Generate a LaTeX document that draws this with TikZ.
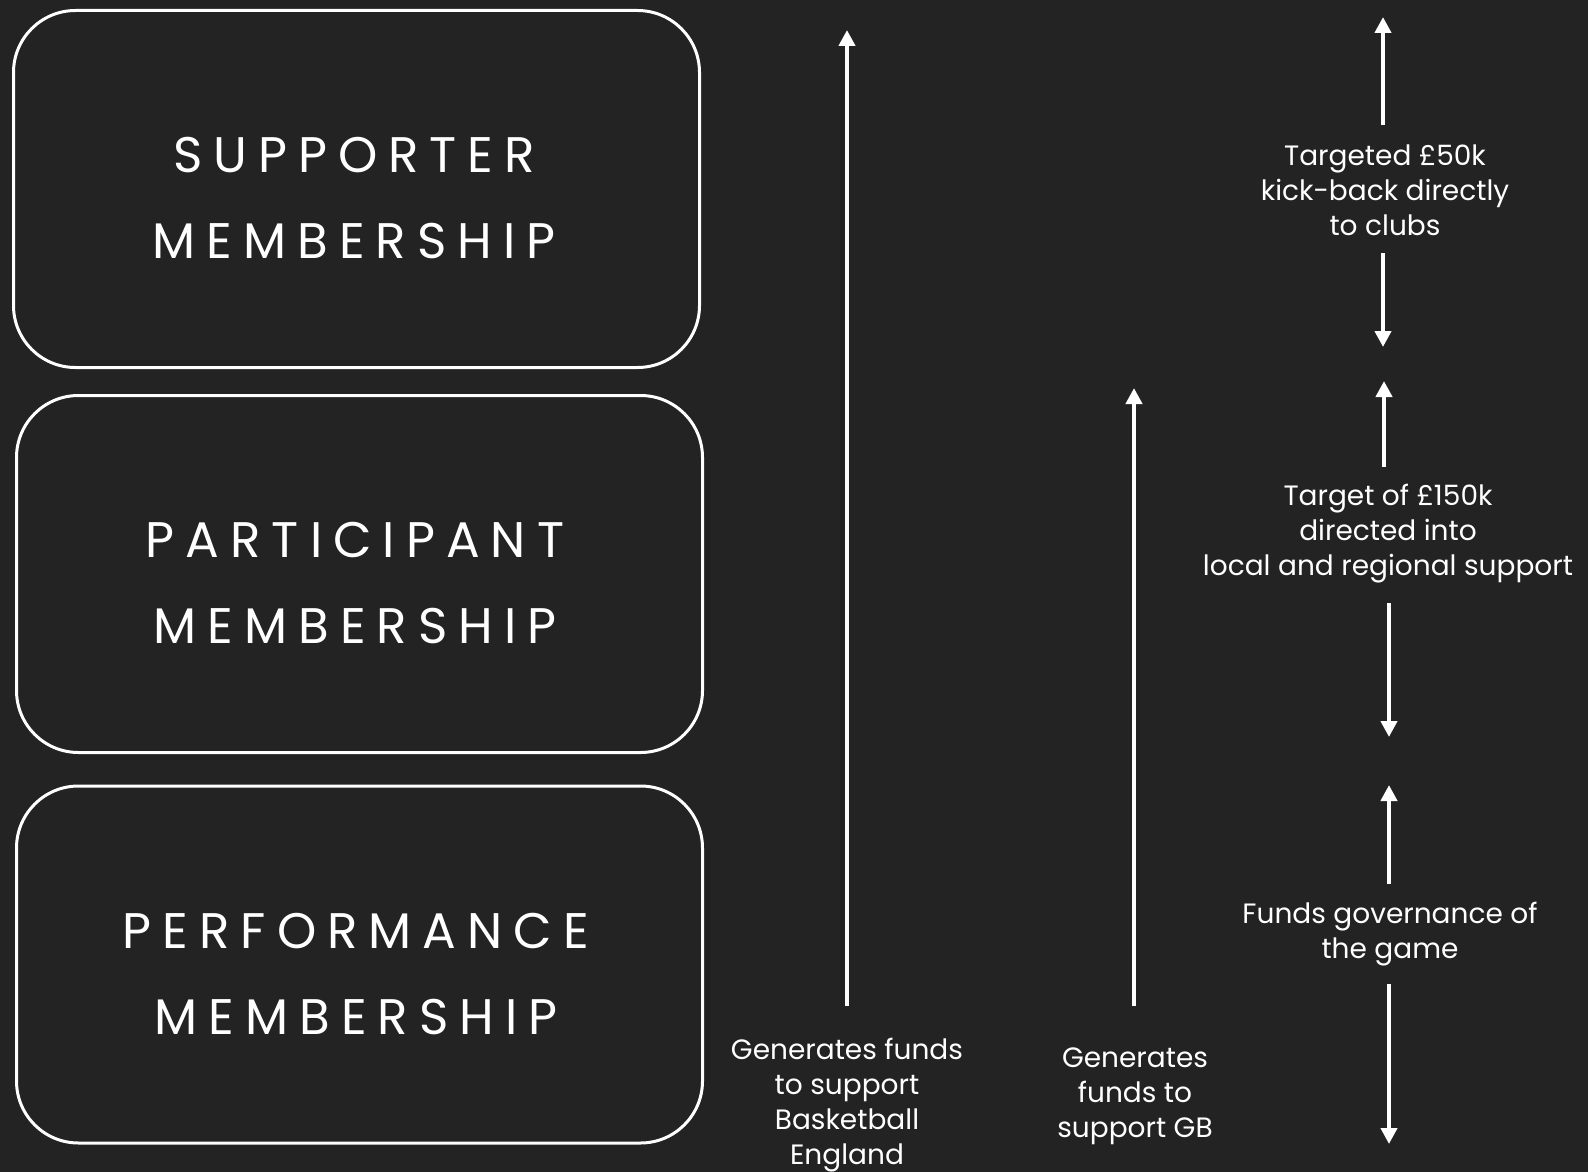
\documentclass[tikz,border=0pt]{standalone}
\usepackage{fontspec}
\setmainfont{Poppins}
\usetikzlibrary{arrows.meta}
\definecolor{bg}{HTML}{232323}
\begin{document}
\begin{tikzpicture}[x=1pt,y=-1pt,
 box/.style={draw=white,line width=3pt,rounded corners=62pt,minimum width=686pt,minimum height=357pt,inner sep=0pt},
 head/.style={text=white,font=\fontsize{50}{86}\selectfont\addfontfeatures{LetterSpace=22},align=center,inner sep=0pt},
 lbl/.style={text=white,font=\fontsize{28}{35}\selectfont,align=center,inner sep=0pt},
 arr/.style={draw=white,line width=4.5pt,-{Triangle[width=16pt,length=16pt]}}]
\fill[bg] (0,0) rectangle (1588,1172);
\useasboundingbox (0,0) rectangle (1588,1172);

\node[box] (b1) at (356.5,189) {};
\node[box] (b2) at (359.5,574) {};
\node[box] (b3) at (359.5,964.5) {};
\node[head] (h1) at (354,198) {SUPPORTER\\MEMBERSHIP};
\node[head] (h2) at (355,583) {PARTICIPANT\\MEMBERSHIP};
\node[head] (h3) at (356,974.5) {PERFORMANCE\\MEMBERSHIP};

% left arrows
\coordinate (a1s) at (847,1006);
\coordinate (a1e) at (847,30);
\coordinate (a2s) at (1134,1006);
\coordinate (a2e) at (1134,388);
\draw[arr] (a1s) -- (a1e);
\draw[arr] (a2s) -- (a2e);
\node[lbl] (t1) at (847,1105) {Generates funds\\to support\\Basketball\\England};
\node[lbl] (t2) at (1135,1096) {Generates\\funds to\\support GB};

% right column
\node[lbl] (r1) at (1385,190) {Targeted £50k\\kick-back directly\\to clubs};
\node[lbl] (r2) at (1388,534) {Target of £150k\\directed into\\local and regional support};
\node[lbl] (r3) at (1390,934) {Funds governance of\\the game};

\coordinate (u1s) at (1383,125);
\coordinate (u1e) at (1383,17);
\coordinate (d1s) at (1383,253);
\coordinate (d1e) at (1383,347);
\coordinate (u2s) at (1384,467);
\coordinate (u2e) at (1384,381);
\coordinate (d2s) at (1389,603);
\coordinate (d2e) at (1389,737);
\coordinate (u3s) at (1389,884);
\coordinate (u3e) at (1389,785);
\coordinate (d3s) at (1389,984);
\coordinate (d3e) at (1389,1144);
\draw[arr] (u1s) -- (u1e);
\draw[arr] (d1s) -- (d1e);
\draw[arr] (u2s) -- (u2e);
\draw[arr] (d2s) -- (d2e);
\draw[arr] (u3s) -- (u3e);
\draw[arr] (d3s) -- (d3e);
\end{tikzpicture}
\end{document}
